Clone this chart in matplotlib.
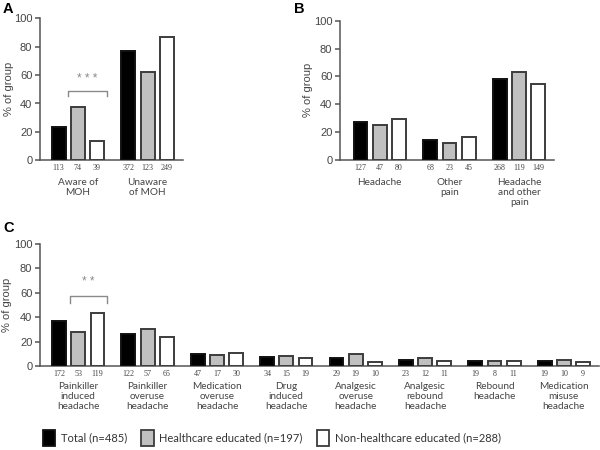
import matplotlib
matplotlib.use("Agg")
import matplotlib.pyplot as plt
from matplotlib.patches import Patch

# ---------------- data ----------------
series_names = ["Total (n=485)", "Healthcare educated (n=197)", "Non-healthcare educated (n=288)"]

a_categories = ["Aware of\nMOH", "Unaware\nof MOH"]
a_total = [23.3, 76.7]
a_health = [37.6, 62.4]
a_nonhealth = [13.5, 86.5]
a_counts_total = [113, 372]
a_counts_health = [74, 123]
a_counts_nonhealth = [39, 249]

b_categories = ["Headache", "Other\npain", "Headache\nand other\npain"]
b_total = [27.4, 14.7, 57.9]
b_health = [24.9, 12.2, 63.0]
b_nonhealth = [29.2, 16.4, 54.4]
b_counts_total = [127, 68, 268]
b_counts_health = [47, 23, 119]
b_counts_nonhealth = [80, 45, 149]

c_categories = ["Painkiller\ninduced\nheadache", "Painkiller\noveruse\nheadache",
                "Medication\noveruse\nheadache", "Drug\ninduced\nheadache",
                "Analgesic\noveruse\nheadache", "Analgesic\nrebound\nheadache",
                "Rebound\nheadache", "Medication\nmisuse\nheadache"]
c_total = [37.1, 26.3, 10.2, 7.3, 6.3, 5.0, 4.1, 4.1]
c_health = [28.0, 30.2, 9.0, 7.9, 10.1, 6.3, 4.2, 5.3]
c_nonhealth = [43.4, 23.7, 10.9, 6.9, 3.6, 4.0, 4.0, 3.3]
c_counts_total = [172, 122, 47, 34, 29, 23, 19, 19]
c_counts_health = [53, 57, 17, 15, 19, 12, 8, 10]
c_counts_nonhealth = [119, 65, 30, 19, 10, 11, 11, 9]

y_ticks = [0, 20, 40, 60, 80, 100]

# ---------------- style ----------------
fills = ["#000000", "#c0c0c0", "#ffffff"]
edges = ["#111111", "#3c3c3c", "#3c3c3c"]
axis_col = "#555555"
text_col = "#444444"
SANS = ["Liberation Sans", "DejaVu Sans"]
HUMAN = ["Lato", "DejaVu Sans"]
SERIF = ["Liberation Serif", "DejaVu Serif"]

fig = plt.figure(figsize=(6, 4.5), dpi=100)
W, H = 600.0, 450.0


def make_ax(left_px, right_px, top_px, bottom_px):
    return fig.add_axes([left_px / W, 1 - bottom_px / H, (right_px - left_px) / W,
                         (bottom_px - top_px) / H])


def draw_panel(ax, cats, vals, counts, gap, xlim, lab_x, cat_offset):
    width = 0.72
    for s in range(3):
        xs = [g * gap + s for g in range(len(cats))]
        ax.bar(xs, vals[s], width=width, color=fills[s], edgecolor=edges[s],
               linewidth=1.4, zorder=3)
        for x, n in zip(xs, counts[s]):
            ax.annotate(str(n), xy=(x, 0), xycoords="data", xytext=(0, -8),
                        textcoords="offset pixels", ha="center", va="center",
                        fontsize=5.8, color=text_col, family=SERIF)
    for g, c in enumerate(cats):
        ax.annotate(c, xy=(g * gap + 1, 0), xycoords="data", xytext=(0, -cat_offset),
                    textcoords="offset pixels", ha="center", va="top",
                    fontsize=7.2, color=text_col, family=HUMAN, linespacing=1.15)
    ax.set_xlim(*xlim)
    ax.set_ylim(0, 100)
    ax.set_yticks(y_ticks)
    ax.set_xticks([])
    for sp in ["top", "right"]:
        ax.spines[sp].set_visible(False)
    for sp in ["left", "bottom"]:
        ax.spines[sp].set_color(axis_col)
        ax.spines[sp].set_linewidth(1.1)
    ax.tick_params(axis="y", direction="out", length=3.5, width=1.1, color=axis_col,
                   labelsize=8, labelcolor=text_col, pad=2)
    for lab in ax.get_yticklabels():
        lab.set_family(SANS)
    ax.set_ylabel("% of group", fontsize=8, color=text_col, family=SANS)
    ax.yaxis.set_label_coords(lab_x, 0.5)
    ax.patch.set_alpha(0)


def bracket(ax, x0, x1, y_top, y_leg, y_star, stars):
    ax.plot([x0, x0, x1, x1], [y_leg, y_top, y_top, y_leg], color="#8a8a8a",
            linewidth=1.0, zorder=4)
    ax.text((x0 + x1) / 2, y_star, stars, ha="center", va="center", fontsize=8.5,
            color="#8a8a8a", family=SANS)


gap = 3.63

# Panel A
axA = make_ax(40, 183, 18.3, 160.3)
draw_panel(axA, a_categories, [a_total, a_health, a_nonhealth],
           [a_counts_total, a_counts_health, a_counts_nonhealth],
           gap, (-0.97, 6.47), -0.185, 18)
bracket(axA, 0.47, 2.53, 49, 45.3, 57, "* * *")

# Panel B
axB = make_ax(340, 554.3, 20.7, 160)
draw_panel(axB, b_categories, [b_total, b_health, b_nonhealth],
           [b_counts_total, b_counts_health, b_counts_nonhealth],
           gap, (-1.07, 10.09), -0.124, 18)

# Panel C
axC = make_ax(40, 599, 244, 366)
draw_panel(axC, c_categories, [c_total, c_health, c_nonhealth],
           [c_counts_total, c_counts_health, c_counts_nonhealth],
           3.61, (-0.99, 28.1), -0.05, 16)
bracket(axC, 0.57, 2.5, 57.4, 51.9, 68.6, "* *")

# Panel letters
fig.text(3 / W, 1 - 2 / H, "A", fontsize=10.5, fontweight="bold", va="top", ha="left", family=SANS)
fig.text(294 / W, 1 - 2 / H, "B", fontsize=10.5, fontweight="bold", va="top", ha="left", family=SANS)
fig.text(3 / W, 1 - 221 / H, "C", fontsize=10.5, fontweight="bold", va="top", ha="left", family=SANS)

# Legend
handles = [Patch(facecolor=fills[i], edgecolor=edges[i], linewidth=1.3) for i in range(3)]
leg = fig.legend(handles, series_names, ncol=3, loc="center left",
                 bbox_to_anchor=(33 / W, 1 - 438 / H), frameon=False,
                 handlelength=1.1, handleheight=1.9, handletextpad=0.5,
                 columnspacing=1.3, prop={"family": HUMAN, "size": 8})
for t in leg.get_texts():
    t.set_color("#333333")

fig.savefig("out.png", dpi=100)
